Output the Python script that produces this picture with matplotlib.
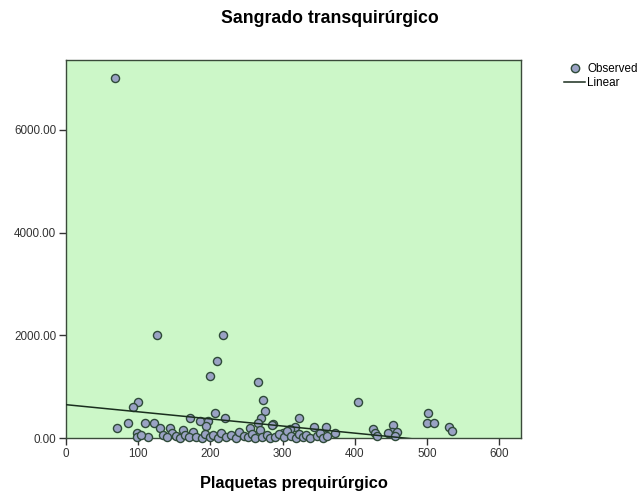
import matplotlib
matplotlib.use("Agg")
import matplotlib.pyplot as plt
import numpy as np
from matplotlib.lines import Line2D

plt.rcParams['font.family'] = ['Liberation Sans', 'DejaVu Sans']

title = "Sangrado transquirúrgico"
xlabel = "Plaquetas prequirúrgico"
legend_labels = ["Observed", "Linear"]

plaquetas = [68, 126, 217, 209, 199, 266, 273, 275, 270, 266, 404, 501, 500, 510, 530, 534,
             100, 93, 71, 86, 109, 122, 130, 98, 144, 114, 172, 186, 197, 194, 206, 162,
             147, 176, 220, 255, 287, 285, 323, 317, 343, 360, 373, 310, 300, 425, 428,
             453, 451, 458, 446,
             98, 104, 135, 140, 152, 158, 165, 170, 180, 188, 192, 200, 203, 210, 214,
             222, 228, 236, 240, 246, 252, 258, 262, 268, 272, 278, 282, 290, 295, 302,
             306, 312, 318, 322, 328, 333, 338, 348, 352, 356, 362, 430, 455]
sangrado = [7000, 2000, 2000, 1500, 1200, 1100, 740, 530, 400, 290, 700, 490, 290, 290, 210, 140,
            700, 600, 200, 290, 290, 290, 200, 100, 200, 20, 400, 330, 330, 230, 490, 160,
            100, 120, 400, 190, 270, 260, 400, 210, 210, 210, 100, 170, 100, 170, 100,
            250, 120, 120, 100,
            20, 60, 60, 20, 40, 10, 60, 20, 30, 10, 80, 20, 60, 10, 100,
            30, 60, 10, 120, 40, 20, 80, 10, 150, 30, 60, 10, 30, 70, 20,
            130, 40, 10, 80, 20, 60, 10, 40, 90, 10, 50, 40, 40]

fit_intercept = 650.0
fit_slope = -1.385

xticks = [0, 100, 200, 300, 400, 500, 600]
yticks = [0, 2000, 4000, 6000]

fig = plt.figure(figsize=(6.43, 4.95), dpi=100)
ax = fig.add_axes([0.1026, 0.115, 0.7076, 0.764])
ax.set_facecolor('#ccf7c8')

ax.scatter(plaquetas, sangrado, s=34, facecolor='#9aa2c4', edgecolor='#2e4a38',
           linewidth=1.0, zorder=3, clip_on=False)

xl = np.linspace(0, 630, 200)
ax.plot(xl, fit_intercept + fit_slope * xl, color='#1a2e1e', linewidth=1.1, zorder=4)

ax.set_xlim(0, 630)
ax.set_ylim(0, 7360)
ax.set_xticks(xticks)
ax.set_yticks(yticks)
ax.set_xticklabels([str(t) for t in xticks])
ax.set_yticklabels([f"{t:.2f}" for t in yticks])
ax.tick_params(axis='both', direction='out', length=5, width=1, labelsize=8.4,
               colors='#333333', pad=2)
for sp in ax.spines.values():
    sp.set_color('#3a4a3a')
    sp.set_linewidth(1.0)

ax.set_xlabel(xlabel, fontsize=11.75, fontweight='bold', labelpad=12)
fig.text(0.513, 0.962, title, ha='center', va='center', fontsize=12.7, fontweight='bold')

handles = [Line2D([], [], marker='o', linestyle='none', markersize=6,
                  markerfacecolor='#9aa2c4', markeredgecolor='#2e4a38'),
           Line2D([], [], color='#1a2e1e', linewidth=1.1)]
fig.legend(handles, legend_labels, loc='upper left', bbox_to_anchor=(0.87, 0.882),
           frameon=False, fontsize=8.4, handlelength=1.8, handletextpad=0.2,
           labelspacing=0.2, borderaxespad=0)

fig.savefig("out.png", dpi=100)
